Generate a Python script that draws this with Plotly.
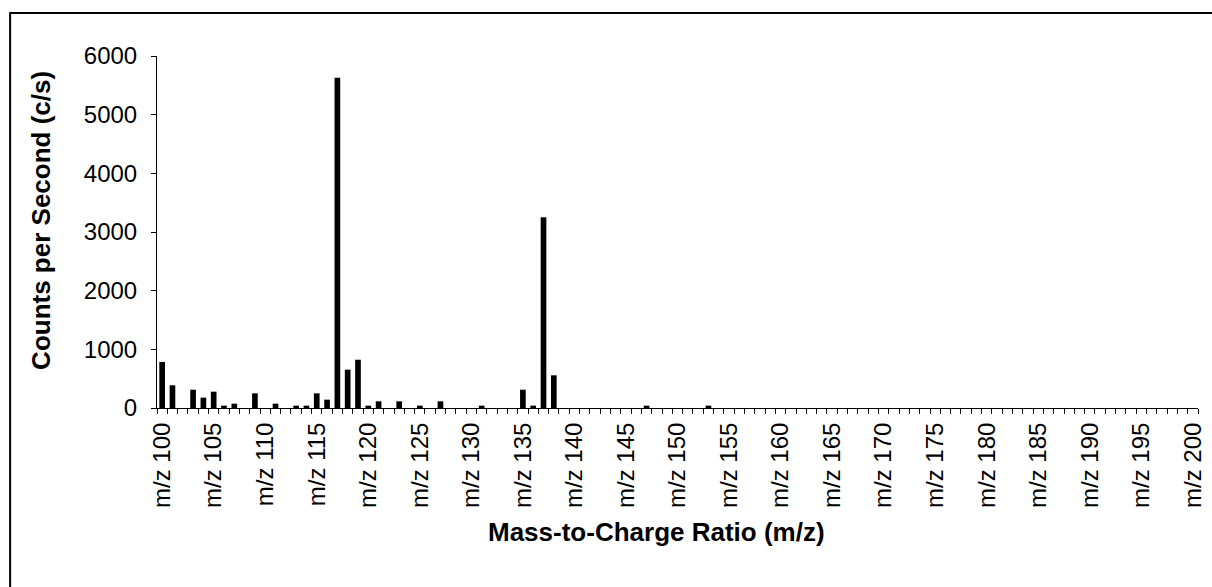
import plotly.graph_objects as go

mz = list(range(100, 201))
labels = [f"m/z {m}" for m in mz]
counts = [
    785, 387, 0, 312, 176, 278, 40, 74, 0, 250,      # 100-109
    0, 74, 0, 40, 40, 250, 142, 5630, 653, 823,       # 110-119
    40, 114, 0, 114, 0, 40, 0, 114, 0, 0,             # 120-129
    0, 40, 0, 0, 0, 312, 40, 3250, 557, 0,            # 130-139
    0, 0, 0, 0, 0, 0, 0, 40, 0, 0,                    # 140-149
    0, 0, 0, 40, 0, 0, 0, 0, 0, 0,                    # 150-159
    0, 0, 0, 0, 0, 0, 0, 0, 0, 0,                     # 160-169
    0, 0, 0, 0, 0, 0, 0, 0, 0, 0,                     # 170-179
    0, 0, 0, 0, 0, 0, 0, 0, 0, 0,                     # 180-189
    0, 0, 0, 0, 0, 0, 0, 0, 0, 0,                     # 190-199
    0,                                                # 200
]
tick_pos = mz[::5]
tick_text = labels[::5]
y_ticks = [0, 1000, 2000, 3000, 4000, 5000, 6000]

FONT = "Liberation Sans, Arial, sans-serif"

fig = go.Figure(go.Bar(
    x=mz, y=counts, width=0.55,
    marker=dict(color="black", line=dict(width=0)),
    hovertext=labels,
))

L, R, T, B = 157, 6, 56, 179
W, H = 1212, 587
pw = W - L - R
ph = H - T - B

fig.update_layout(
    width=W, height=H,
    margin=dict(l=L, r=R, t=T, b=B, pad=0),
    paper_bgcolor="white", plot_bgcolor="white",
    font=dict(family=FONT, color="black", size=24),
    showlegend=False,
    bargap=0.45,
)
fig.update_xaxes(
    range=[99.5, 200.5],
    tickmode="array", tickvals=tick_pos, ticktext=tick_text,
    tickangle=-90, ticks="", showgrid=False, zeroline=False,
    showline=True, linecolor="black", linewidth=1,
    tickfont=dict(size=24, family=FONT),
    ticklabelstandoff=4, ticklabeloverflow="allow",
    minor=dict(tick0=99.5, dtick=1, ticks="outside", ticklen=5,
               tickcolor="black", tickwidth=1, showgrid=False),
)
fig.update_yaxes(
    range=[0, 6000], tickmode="array", tickvals=y_ticks,
    ticks="outside", ticklen=5, tickcolor="black", tickwidth=1,
    showgrid=False, zeroline=False,
    showline=True, linecolor="black", linewidth=1,
    tickfont=dict(size=24, family=FONT),
    ticklabelstandoff=9,
)

def px_x(px):
    return (px - L) / pw

def px_y(py):
    return (H - B - py) / ph

fig.add_annotation(
    text="<b>Counts per Second (c/s)</b>", textangle=-90,
    xref="paper", yref="paper", x=px_x(40), y=px_y(220),
    showarrow=False, font=dict(size=26, family=FONT, color="black"),
    xanchor="center", yanchor="middle",
)
fig.add_annotation(
    text="<b>Mass-to-Charge Ratio (m/z)</b>",
    xref="paper", yref="paper", x=px_x(660), y=px_y(532),
    showarrow=False, font=dict(size=26, family=FONT, color="black"),
    xanchor="center", yanchor="middle",
)
fig.add_shape(
    type="rect", xref="paper", yref="paper",
    x0=px_x(9), y0=px_y(700), x1=px_x(1400), y1=px_y(13),
    line=dict(color="black", width=2), fillcolor="rgba(0,0,0,0)",
    layer="below",
)

fig.write_html("out.html")
